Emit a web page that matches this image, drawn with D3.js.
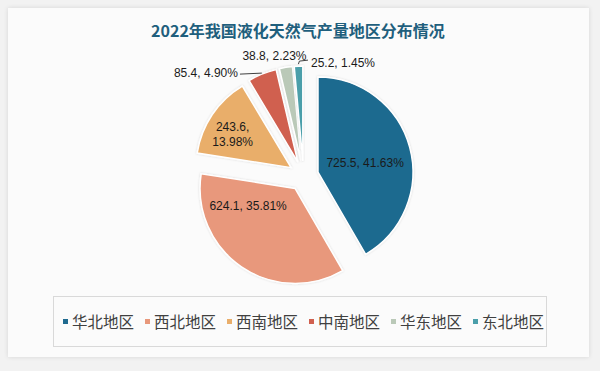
<!DOCTYPE html>
<html>
<head>
<meta charset="utf-8">
<script src="https://cdn.jsdelivr.net/npm/d3@7/dist/d3.min.js"></script>
<style>
	html, body { margin: 0; padding: 0; background: #f2f2f2; }
	svg { display: block; }
</style>
</head>
<body>
<div class="chart"></div>
<script>
const width = 600,
	height = 371;

// data
const regions = ["华北地区", "西北地区", "西南地区", "中南地区", "华东地区", "东北地区"];
const output = [725.5, 624.1, 243.6, 85.4, 38.8, 25.2];
const shares = ["41.63%", "35.81%", "13.98%", "4.90%", "2.23%", "1.45%"];
const colors = ["#1f6a8f", "#e8987b", "#e9ae6b", "#d0604f", "#bac9b8", "#4b9faa"];

// label spots, polar from pie centre: angle (deg), radius, anchor
const labelSpots = [
	{ a: 78, r: 63, anchor: "middle" },
	{ a: 241.6, r: 63, anchor: "middle" },
	{ a: 300.2, r: 82, anchor: "middle" },
	{ a: 327.5, r: 122, anchor: "end" },
	{ a: 346.4, r: 123.5, anchor: "middle" },
	{ a: 3.8, r: 113, anchor: "start" },
];

const cx = 303.5,
	cy = 176,
	radius = 95,
	explode = 15;

const svg = d3
	.select(".chart")
	.append("svg")
	.attr("width", width)
	.attr("height", height);

const defs = svg.append("defs");
const shadow = defs.append("filter").attr("id", "shadow").attr("x", "-10%").attr("y", "-10%").attr("width", "120%").attr("height", "120%");
shadow.append("feDropShadow").attr("dx", 0).attr("dy", 0).attr("stdDeviation", 2).attr("flood-color", "#000").attr("flood-opacity", 0.12);

const glow = defs.append("filter").attr("id", "glow").attr("x", "-20%").attr("y", "-20%").attr("width", "140%").attr("height", "140%");
glow.append("feDropShadow").attr("dx", 0).attr("dy", 0).attr("stdDeviation", 1.2).attr("flood-color", "#000").attr("flood-opacity", 0.15);

// panel
svg.append("rect")
	.attr("x", 8)
	.attr("y", 8)
	.attr("width", 581)
	.attr("height", 349)
	.attr("fill", "#fbfbfb")
	.attr("filter", "url(#shadow)");

svg.append("text")
	.attr("x", 298)
	.attr("y", 37)
	.attr("text-anchor", "middle")
	.attr("font-family", "'Noto Sans CJK SC', 'Noto Sans', sans-serif")
	.attr("font-weight", "bold")
	.attr("font-size", 16)
	.attr("fill", "#1f5f7d")
	.text("2022年我国液化天然气产量地区分布情况");

const pie = d3.pie().sort(null).value((d) => d);
const arcs = pie(output);
const arc = d3.arc().innerRadius(0).outerRadius(radius);

const g = svg.append("g").attr("transform", `translate(${cx},${cy})`);

const offset = (d) => {
	const mid = (d.startAngle + d.endAngle) / 2;
	return [Math.sin(mid) * explode, -Math.cos(mid) * explode];
};

g.selectAll("path")
	.data(arcs)
	.join("path")
	.attr("d", arc)
	.attr("transform", (d) => `translate(${offset(d)})`)
	.attr("fill", (d, i) => colors[i])
	.attr("stroke", "#ffffff")
	.attr("stroke-width", 1.5)
	.attr("filter", "url(#glow)");

const rad = (deg) => (deg * Math.PI) / 180;
const spot = (i) => [
	Math.sin(rad(labelSpots[i].a)) * labelSpots[i].r,
	-Math.cos(rad(labelSpots[i].a)) * labelSpots[i].r,
];

// leader lines for small slices
const edgePoint = (d, rr) => {
	const mid = (d.startAngle + d.endAngle) / 2;
	const o = offset(d);
	return [o[0] + Math.sin(mid) * rr, o[1] - Math.cos(mid) * rr];
};

const leaders = [
	{ i: 3, pts: (d) => { const p = edgePoint(d, radius + 1); const s = spot(3); return [p, [s[0] + 2, p[1] + 1]]; } },
	{ i: 5, pts: (d) => { const p = edgePoint(d, radius + 2); const s = spot(5); return [p, [p[0] + 1, p[1] - 3], [s[0] - 3, p[1] - 4]]; } },
];

g.selectAll(".leader")
	.data(leaders)
	.join("polyline")
	.attr("class", "leader")
	.attr("points", (l) => l.pts(arcs[l.i]).map((p) => p.join(",")).join(" "))
	.attr("fill", "none")
	.attr("stroke", "#404040")
	.attr("stroke-width", 1);

const labels = g
	.selectAll(".lbl")
	.data(arcs)
	.join("text")
	.attr("class", "lbl")
	.attr("font-family", "'Liberation Sans', Arial, sans-serif")
	.attr("font-size", 12)
	.attr("fill", "#1a1a1a")
	.attr("text-anchor", (d, i) => labelSpots[i].anchor)
	.attr("transform", (d, i) => `translate(${spot(i)})`);

labels.each(function (d, i) {
	const t = d3.select(this);
	const txt = `${output[i]}, ${shares[i]}`;
	if (i === 2) {
		t.append("tspan").attr("x", 0).attr("dy", "-0.35em").text(`${output[i]},`);
		t.append("tspan").attr("x", 0).attr("dy", "1.25em").text(shares[i]);
	} else {
		t.append("tspan").attr("x", 0).attr("dy", "0.35em").text(txt);
	}
});

// legend
svg.append("rect")
	.attr("x", 53.5)
	.attr("y", 296.5)
	.attr("width", 493)
	.attr("height", 50)
	.attr("fill", "none")
	.attr("stroke", "#d9d9d9");

const legendX = d3.scaleBand().domain(regions).range([61, 553]);

const legend = svg
	.append("g")
	.selectAll("g")
	.data(regions)
	.join("g")
	.attr("transform", (d) => `translate(${legendX(d)},322)`);

legend.append("rect")
	.attr("x", 2)
	.attr("y", -3)
	.attr("width", 5)
	.attr("height", 5)
	.attr("fill", (d, i) => colors[i]);

legend.append("text")
	.attr("x", 11)
	.attr("y", 0)
	.attr("dy", "0.36em")
	.attr("font-family", "'Noto Sans CJK SC', sans-serif")
	.attr("font-size", 15.5)
	.attr("fill", "#404040")
	.text((d) => d);
</script>
</body>
</html>
